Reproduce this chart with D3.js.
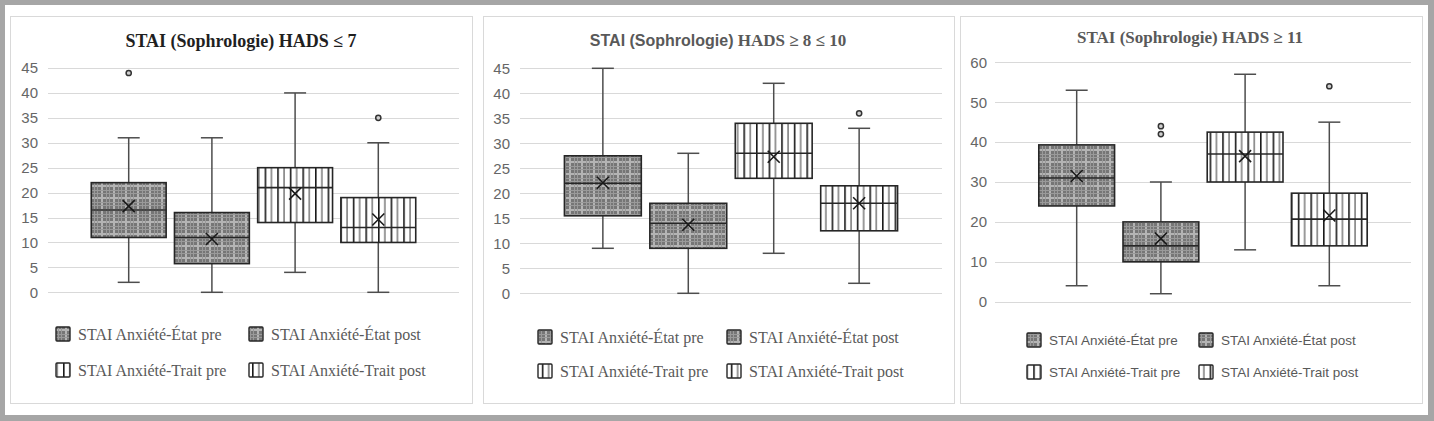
<!DOCTYPE html>
<html><head><meta charset="utf-8">
<script src="https://cdn.jsdelivr.net/npm/d3@7"></script>
<style>html,body{margin:0;padding:0;background:#a6a6a6;}svg{display:block;}</style>
</head><body><svg id="c" width="1434" height="421"></svg>
<script>
// ---- data ----
const series = ["STAI Anxiété-État pre", "STAI Anxiété-État post", "STAI Anxiété-Trait pre", "STAI Anxiété-Trait post"];
const seriesKind = ["plaid", "plaid", "stripe", "stripe"];
const titleA = ["STAI (Sophrologie) HADS ≤ 7", "STAI (Sophrologie)", "STAI (Sophrologie) HADS ≥ 11"];
const titleB = ["", " HADS ≥ 8 ≤ 10", ""];
const ticksLow = [0, 5, 10, 15, 20, 25, 30, 35, 40, 45];
const ticksMid = [0, 5, 10, 15, 20, 25, 30, 35, 40, 45];
const ticksHigh = [0, 10, 20, 30, 40, 50, 60];

// HADS <= 7
const lowMin = [2, 0, 4, 0];
const lowQ1 = [11, 5.75, 14, 10];
const lowMedian = [16.5, 11, 21, 13];
const lowQ3 = [22, 16, 25, 19];
const lowMax = [31, 31, 40, 30];
const lowMean = [17.3, 10.7, 19.8, 14.6];
const lowOutliers = [[44], [], [], [35]];

// HADS >= 8 <= 10
const midMin = [9, 0, 8, 2];
const midQ1 = [15.5, 9, 23, 12.5];
const midMedian = [22, 14, 28, 18];
const midQ3 = [27.5, 18, 34, 21.5];
const midMax = [45, 28, 42, 33];
const midMean = [22.1, 13.7, 27.3, 18];
const midOutliers = [[], [], [], [36]];

// HADS >= 11
const highMin = [4, 2, 13, 4];
const highQ1 = [24, 10, 30, 14];
const highMedian = [31, 14, 37, 20.7];
const highQ3 = [39.3, 20, 42.5, 27.2];
const highMax = [53, 30, 57, 45];
const highMean = [31.5, 15.8, 36.5, 21.6];
const highOutliers = [[], [42, 44], [], [54]];

// ---- layout ----
const panels = [
  {x0:10, x1:472, left:48, right:459, yTop:68, yBot:292.3, ymax:45, ticks:ticksLow,
   stats:[lowMin, lowQ1, lowMedian, lowQ3, lowMax, lowMean, lowOutliers],
   title:{x:241, y:47, size:18, color:"#1f1f1f", serifA:true},
   tickX:38, legCols:[56,249], legRows:[334,370], legFont:"Liberation Serif", legSize:16},
  {x0:483, x1:954, left:520, right:942, yTop:68.3, yBot:293.3, ymax:45, ticks:ticksMid,
   stats:[midMin, midQ1, midMedian, midQ3, midMax, midMean, midOutliers],
   title:{x:718, y:46, size:17, color:"#595959", serifA:false},
   tickX:510, legCols:[538,727], legRows:[337,371], legFont:"Liberation Serif", legSize:16},
  {x0:960, x1:1422, left:995, right:1411, yTop:62.3, yBot:301.7, ymax:60, ticks:ticksHigh,
   stats:[highMin, highQ1, highMedian, highQ3, highMax, highMean, highOutliers],
   title:{x:1190, y:43, size:17, color:"#595959", serifA:true},
   tickX:987, legCols:[1027,1199], legRows:[340,372], legFont:"Liberation Sans", legSize:13.5}
];

const svg = d3.select("#c");
const defs = svg.append("defs");
// plaid pattern
const pl = defs.append("pattern").attr("id","plaid").attr("patternUnits","userSpaceOnUse").attr("width",12).attr("height",12);
pl.append("rect").attr("width",12).attr("height",12).attr("fill","#767676");
pl.append("rect").attr("x",5).attr("width",2).attr("height",12).attr("fill","#b4b4b4");
pl.append("rect").attr("y",5).attr("width",12).attr("height",2).attr("fill","#b4b4b4");
pl.append("rect").attr("x",1).attr("width",1).attr("height",12).attr("fill","#9a9a9a");
pl.append("rect").attr("x",10).attr("width",1).attr("height",12).attr("fill","#9a9a9a");
pl.append("rect").attr("y",1).attr("width",12).attr("height",1).attr("fill","#9a9a9a");
pl.append("rect").attr("y",10).attr("width",12).attr("height",1).attr("fill","#9a9a9a");
// vertical stripe pattern
const st = defs.append("pattern").attr("id","stripe").attr("patternUnits","userSpaceOnUse").attr("width",12.6).attr("height",10);
st.append("rect").attr("width",12.6).attr("height",10).attr("fill","#ffffff");
st.append("rect").attr("x",0).attr("width",1.6).attr("height",10).attr("fill","#1a1a1a");
st.append("rect").attr("x",6.3).attr("width",1.1).attr("height",10).attr("fill","#4a4a4a");

// outer white frame
svg.append("rect").attr("x",5).attr("y",5).attr("width",1423).attr("height",410).attr("fill","#ffffff");

panels.forEach((p, idx) => {
  const g = svg.append("g");
  g.append("rect").attr("x",p.x0+0.5).attr("y",16.5).attr("width",p.x1-p.x0).attr("height",387)
    .attr("fill","#ffffff").attr("stroke","#d9d9d9").attr("stroke-width",1);

  const y = d3.scaleLinear().domain([0,p.ymax]).range([p.yBot,p.yTop]);
  const x = d3.scaleBand().domain(series).range([p.left,p.right]).paddingInner(0.1).paddingOuter(0.52);

  // gridlines
  g.append("g").selectAll("line").data(p.ticks).join("line")
    .attr("x1",p.left).attr("x2",p.right)
    .attr("y1",d=>Math.round(y(d))+0.5).attr("y2",d=>Math.round(y(d))+0.5)
    .attr("stroke","#d9d9d9").attr("stroke-width",1);

  // y axis labels
  const ax = g.append("g").attr("transform",`translate(${p.tickX},0)`)
    .call(d3.axisLeft(y).tickValues(p.ticks).tickSize(0).tickPadding(0));
  ax.select(".domain").remove();
  ax.selectAll("text").attr("font-family","Liberation Sans").attr("font-size",15).attr("fill","#666666");

  // title
  const t = g.append("text").attr("x",p.title.x).attr("y",p.title.y).attr("text-anchor","middle")
    .attr("font-family", p.title.serifA ? "Liberation Serif" : "Liberation Sans")
    .attr("font-size",p.title.size).attr("font-weight","bold").attr("fill",p.title.color);
  t.append("tspan").attr("font-family",p.title.serifA ? "Liberation Serif" : "Liberation Sans")
    .attr("font-size",p.title.serifA ? p.title.size : 16).text(titleA[idx]);
  if (titleB[idx]) t.append("tspan").attr("font-family","Liberation Serif").attr("font-size",p.title.size).text(titleB[idx]);

  const [mn,q1,md,q3,mx,mean,outs] = p.stats;
  const bw = x.bandwidth();
  const wc = "#4d4d4d", stroke = "#262626";
  series.forEach((s,i) => {
    const cx = x(s) + bw/2;
    // whiskers
    g.append("line").attr("x1",cx).attr("x2",cx).attr("y1",y(mx[i])).attr("y2",y(q3[i])).attr("stroke",wc).attr("stroke-width",1.5);
    g.append("line").attr("x1",cx).attr("x2",cx).attr("y1",y(q1[i])).attr("y2",y(mn[i])).attr("stroke",wc).attr("stroke-width",1.5);
    g.append("line").attr("x1",cx-11).attr("x2",cx+11).attr("y1",y(mx[i])).attr("y2",y(mx[i])).attr("stroke",wc).attr("stroke-width",1.5);
    g.append("line").attr("x1",cx-11).attr("x2",cx+11).attr("y1",y(mn[i])).attr("y2",y(mn[i])).attr("stroke",wc).attr("stroke-width",1.5);
    // box
    g.append("rect").attr("x",x(s)).attr("y",y(q3[i])).attr("width",bw)
      .attr("height",y(q1[i])-y(q3[i]))
      .attr("fill",`url(#${seriesKind[i]})`).attr("stroke",stroke).attr("stroke-width",1.6);
    // median
    g.append("line").attr("x1",x(s)).attr("x2",x(s)+bw).attr("y1",y(md[i])).attr("y2",y(md[i])).attr("stroke",stroke).attr("stroke-width",1.6);
    // mean X
    const my = y(mean[i]);
    g.append("path").attr("d",`M${cx-6},${my-6}L${cx+6},${my+6}M${cx-6},${my+6}L${cx+6},${my-6}`)
      .attr("stroke","#1a1a1a").attr("stroke-width",1.6).attr("fill","none");
    // outliers
    g.append("g").selectAll("circle").data(outs[i]).join("circle")
      .attr("cx",cx).attr("cy",d=>y(d)).attr("r",2.6)
      .attr("fill","#d0d0d0").attr("stroke","#333333").attr("stroke-width",1.5);

    // legend
    const lx = p.legCols[i%2], ly = p.legRows[Math.floor(i/2)];
    g.append("rect").attr("x",lx).attr("y",ly-7).attr("width",14).attr("height",14).attr("rx",1)
      .attr("fill",`url(#${seriesKind[i]})`).attr("stroke","#262626").attr("stroke-width",1.4);
    g.append("text").attr("x",lx+22).attr("y",ly).attr("dy","0.35em")
      .attr("font-family",p.legFont).attr("font-size",p.legSize).attr("fill","#595959").text(s);
  });
});
</script>
</body></html>
